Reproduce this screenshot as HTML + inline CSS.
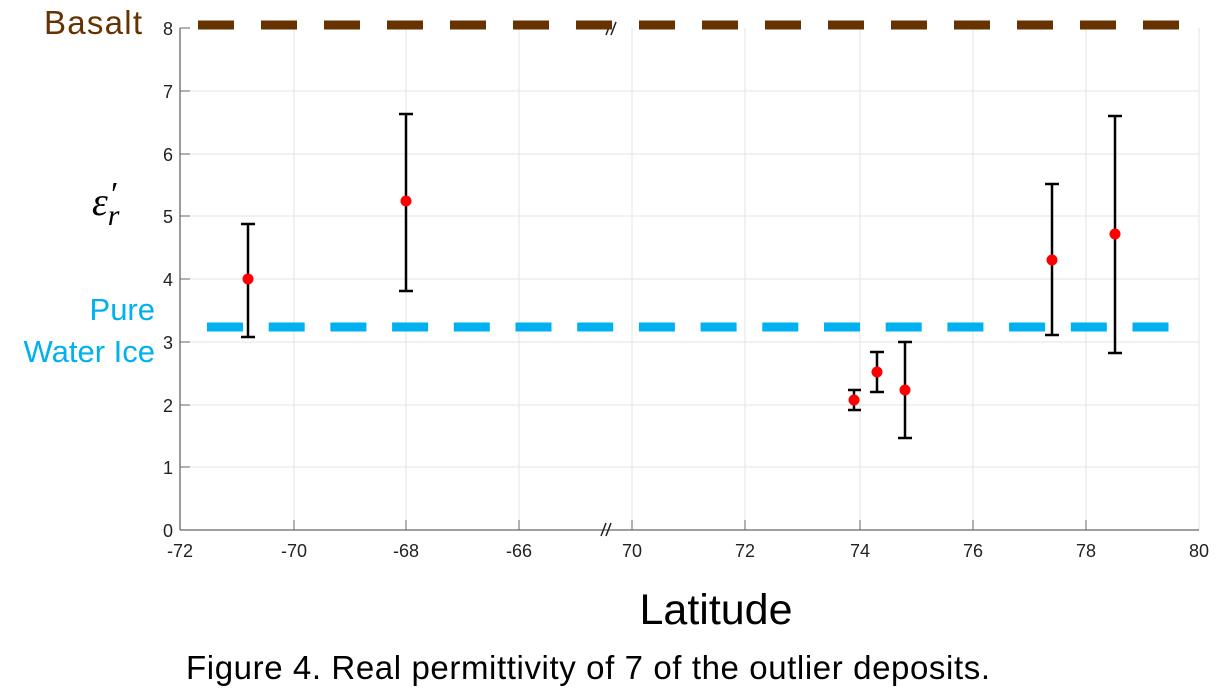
<!DOCTYPE html>
<html><head><meta charset="utf-8"><style>
body{margin:0;background:#fff;}
svg{display:block;font-family:"Liberation Sans",sans-serif;}
</style></head><body>
<svg width="1227" height="694" viewBox="0 0 1227 694">
<g stroke="#e3e3e3" stroke-width="1">
<line x1="294" y1="28" x2="294" y2="530"/><line x1="406" y1="28" x2="406" y2="530"/><line x1="519" y1="28" x2="519" y2="530"/><line x1="632" y1="28" x2="632" y2="530"/><line x1="745" y1="28" x2="745" y2="530"/><line x1="860" y1="28" x2="860" y2="530"/><line x1="973" y1="28" x2="973" y2="530"/><line x1="1086" y1="28" x2="1086" y2="530"/><line x1="1199" y1="28" x2="1199" y2="530"/>
<line x1="180" y1="91" x2="1199" y2="91"/><line x1="180" y1="154" x2="1199" y2="154"/><line x1="180" y1="216" x2="1199" y2="216"/><line x1="180" y1="279" x2="1199" y2="279"/><line x1="180" y1="342" x2="1199" y2="342"/><line x1="180" y1="405" x2="1199" y2="405"/><line x1="180" y1="467" x2="1199" y2="467"/>
</g>
<g stroke="#666" stroke-width="1.3">
<line x1="180" y1="28" x2="180" y2="530"/><line x1="180" y1="530" x2="1199" y2="530"/>
</g>
<g stroke="#666" stroke-width="1">
<line x1="180" y1="28" x2="190" y2="28"/><line x1="180" y1="91" x2="190" y2="91"/><line x1="180" y1="154" x2="190" y2="154"/><line x1="180" y1="216" x2="190" y2="216"/><line x1="180" y1="279" x2="190" y2="279"/><line x1="180" y1="342" x2="190" y2="342"/><line x1="180" y1="405" x2="190" y2="405"/><line x1="180" y1="467" x2="190" y2="467"/>
<line x1="294" y1="520" x2="294" y2="530"/><line x1="406" y1="520" x2="406" y2="530"/><line x1="519" y1="520" x2="519" y2="530"/><line x1="632" y1="520" x2="632" y2="530"/><line x1="745" y1="520" x2="745" y2="530"/><line x1="860" y1="520" x2="860" y2="530"/><line x1="973" y1="520" x2="973" y2="530"/><line x1="1086" y1="520" x2="1086" y2="530"/>
</g>
<g font-size="18" fill="#222" text-anchor="end">
<text x="173" y="35">8</text><text x="173" y="98">7</text><text x="173" y="161">6</text><text x="173" y="223">5</text><text x="173" y="286">4</text><text x="173" y="349">3</text><text x="173" y="412">2</text><text x="173" y="474">1</text><text x="173" y="537">0</text>
</g>
<g font-size="18" fill="#222" text-anchor="middle">
<text x="180" y="557">-72</text><text x="294" y="557">-70</text><text x="406" y="557">-68</text><text x="519" y="557">-66</text><text x="632" y="557">70</text><text x="745" y="557">72</text><text x="860" y="557">74</text><text x="973" y="557">76</text><text x="1086" y="557">78</text><text x="1199" y="557">80</text>
</g>
<g stroke="#222" stroke-width="1.5">
<line x1="601" y1="536" x2="606" y2="523"/><line x1="606" y1="536" x2="611" y2="523"/>
<line x1="606" y1="35" x2="611" y2="22"/><line x1="611" y1="35" x2="616" y2="22"/>
</g>
<line x1="198" y1="25" x2="1199" y2="25" stroke="#663300" stroke-width="9" stroke-dasharray="36 27"/>
<line x1="207" y1="327" x2="1180" y2="327" stroke="#00b0f0" stroke-width="9" stroke-dasharray="36 25.7"/>
<g stroke="#000" stroke-width="2.5">
<path d="M248 224V337M241 224H255M241 337H255"/>
<path d="M406 114V291M399 114H413M399 291H413"/>
<path d="M854 390V410M848 390H861M848 410H861"/>
<path d="M877 352V392M870 352H884M870 392H884"/>
<path d="M905 342V438M898 342H912M898 438H912"/>
<path d="M1052 184V335M1045 184H1059M1045 335H1059"/>
<path d="M1115 116V353M1108 116H1122M1108 353H1122"/>
</g>
<g fill="#f00">
<circle cx="248" cy="279" r="5.5"/><circle cx="406" cy="201" r="5.5"/><circle cx="854" cy="400" r="5.5"/><circle cx="877" cy="372" r="5.5"/><circle cx="905" cy="390" r="5.5"/><circle cx="1052" cy="260" r="5.5"/><circle cx="1115" cy="234" r="5.5"/>
</g>
<text x="44" y="34" font-size="33" fill="#663300" textLength="98">Basalt</text>
<text x="155" y="320" font-size="31" fill="#00b0f0" text-anchor="end">Pure</text>
<text x="155" y="362" font-size="31" fill="#00b0f0" text-anchor="end">Water Ice</text>
<text x="92" y="215" font-size="40" font-style="italic" font-family="Liberation Serif,serif">ε<tspan font-size="30" dy="10">r</tspan></text>
<text x="111" y="205" font-size="34" font-family="Liberation Serif,serif">′</text>
<text x="716" y="624" font-size="43" text-anchor="middle" fill="#000">Latitude</text>
<text x="588" y="679" font-size="33" text-anchor="middle" fill="#000" textLength="804">Figure 4. Real permittivity of 7 of the outlier deposits.</text>
</svg>
</body></html>
